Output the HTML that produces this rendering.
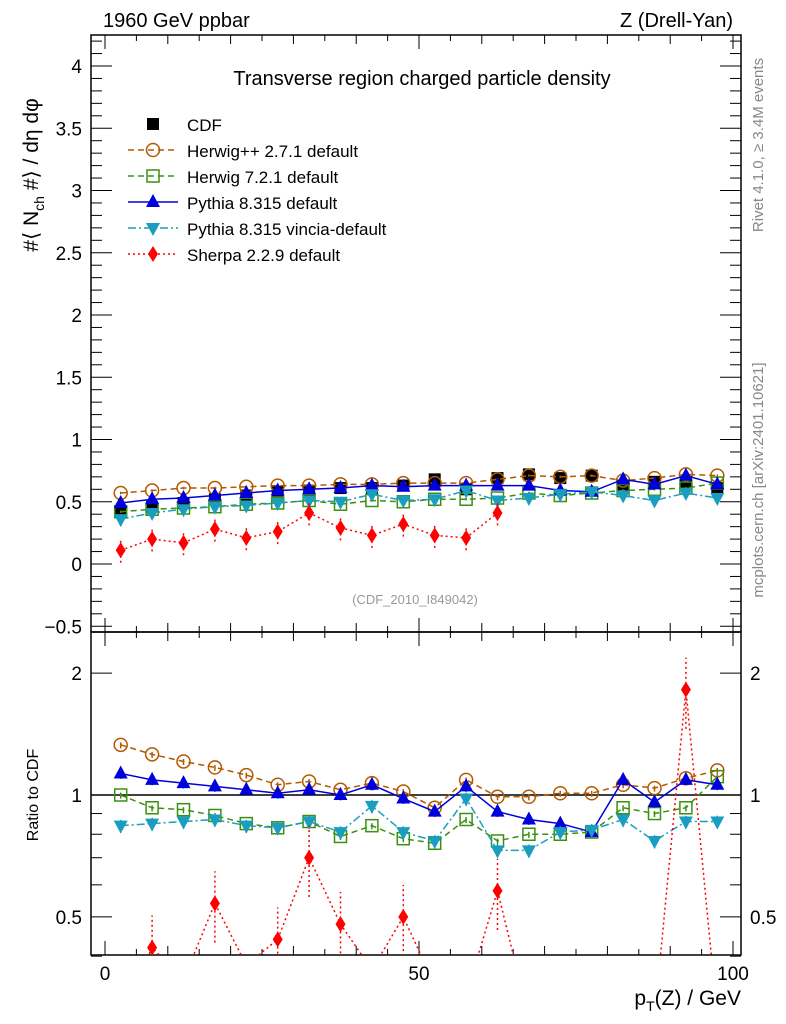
<!DOCTYPE html>
<html><head><meta charset="utf-8"><style>
html,body{margin:0;padding:0;background:#fff;overflow:hidden;width:786px;height:1024px;}
svg{display:block;}
svg text{font-family:"Liberation Sans",sans-serif;}
</style></head><body>
<svg id="c" width="786" height="1024" xmlns="http://www.w3.org/2000/svg"></svg>
<script>
const xVals=[2.5,7.5,12.5,17.5,22.5,27.5,32.5,37.5,42.5,47.5,52.5,57.5,62.5,67.5,72.5,77.5,82.5,87.5,92.5,97.5];
const cdf=[0.42,0.46,0.49,0.52,0.55,0.58,0.59,0.61,0.61,0.63,0.68,0.60,0.69,0.72,0.69,0.71,0.63,0.66,0.66,0.61];
const herwigpp=[0.57,0.59,0.61,0.61,0.62,0.63,0.63,0.64,0.64,0.65,0.65,0.65,0.68,0.71,0.70,0.71,0.67,0.69,0.72,0.71];
const herwig7=[0.42,0.44,0.45,0.46,0.48,0.49,0.51,0.48,0.51,0.50,0.52,0.52,0.53,0.57,0.55,0.57,0.59,0.60,0.61,0.65];
const pythia=[0.49,0.52,0.53,0.55,0.57,0.59,0.60,0.61,0.63,0.62,0.63,0.63,0.63,0.63,0.59,0.58,0.68,0.64,0.71,0.64];
const vincia=[0.36,0.41,0.44,0.46,0.47,0.49,0.51,0.50,0.56,0.51,0.52,0.59,0.51,0.53,0.56,0.58,0.55,0.51,0.57,0.53];
const sherpa=[0.11,0.20,0.17,0.28,0.21,0.26,0.41,0.29,0.23,0.32,0.23,0.21,0.41];
const rHerwigpp=[1.33,1.26,1.21,1.17,1.12,1.06,1.08,1.03,1.07,1.02,0.93,1.09,0.99,0.99,1.01,1.01,1.06,1.04,1.10,1.15];
const rHerwig7=[1.0,0.93,0.92,0.89,0.85,0.83,0.86,0.79,0.84,0.78,0.76,0.87,0.77,0.80,0.80,0.81,0.93,0.90,0.93,1.11];
const rPythia=[1.13,1.09,1.07,1.05,1.03,1.01,1.03,1.0,1.06,0.98,0.91,1.05,0.91,0.87,0.85,0.81,1.09,0.96,1.09,1.06];
const rVincia=[0.84,0.85,0.86,0.87,0.84,0.83,0.86,0.81,0.94,0.81,0.77,0.98,0.73,0.73,0.81,0.82,0.87,0.77,0.86,0.86];
const rSherpa=[0.26,0.42,0.35,0.54,0.38,0.44,0.70,0.48,0.37,0.50,0.34,0.32,0.58,0.2,0.2,0.2,0.2,0.2,1.82,0.2];
const yTicksTop=[-0.5,0,0.5,1,1.5,2,2.5,3,3.5,4];
const xTickLabels=[0,50,100];

const svg=document.getElementById('c');
const NS='http://www.w3.org/2000/svg';
function el(tag,attrs,parent){const e=document.createElementNS(NS,tag);for(const k in attrs)e.setAttribute(k,attrs[k]);(parent||svg).appendChild(e);return e;}
function txt(s,attrs,parent){const e=el('text',attrs,parent);e.textContent=s;return e;}
const L=91,R=741,T=35,M=632,B=955;
const X=v=>105+v*6.28;
const Y=v=>564-v*124.5;
const YR=r=>795-405*Math.log10(r);
const YRc=r=>Math.max(M-10,Math.min(1018,YR(r)));

const defs=el('defs',{});
const c1=el('clipPath',{id:'cu'},defs);el('rect',{x:L,y:T,width:R-L,height:M-T},c1);
const c2=el('clipPath',{id:'cl'},defs);el('rect',{x:L,y:M,width:R-L,height:B-M},c2);

const f1=el('rect',{x:L,y:T,width:R-L,height:M-T,fill:'none',stroke:'#000','stroke-width':1.5});

const f2=el('rect',{x:L,y:M,width:R-L,height:B-M,fill:'none',stroke:'#000','stroke-width':1.5});


const gx=el('g',{stroke:'#000','stroke-width':1});

for(let v=0;v<=100;v+=5){const len=v%50===0?14:(v%10===0?9:6);const x=X(v);
 el('line',{x1:x,y1:T,x2:x,y2:T+len},gx);el('line',{x1:x,y1:M,x2:x,y2:M-len},gx);
 el('line',{x1:x,y1:M,x2:x,y2:M+len},gx);el('line',{x1:x,y1:B,x2:x,y2:B-len},gx);}
xTickLabels.forEach(v=>{const t=txt(String(v),{x:X(v),y:980,'font-size':19,'text-anchor':'middle'});
 });

const gy=el('g',{stroke:'#000','stroke-width':1});

for(let i=-6;i<=42;i++){const v=i/10;const y=Y(v);if(y<T||y>M)continue;const len=i%5===0?21:11;
 el('line',{x1:L,y1:y,x2:L+len,y2:y},gy);el('line',{x1:R,y1:y,x2:R-len,y2:y},gy);}
yTicksTop.forEach(v=>{const t=txt(v<0?'\u22120.5':String(v),{x:82,y:Y(v)+7,'font-size':19,'text-anchor':'end'});
 });
[0.4,0.5,0.6,0.7,0.8,0.9,1,2].forEach(r=>{const y=YR(r);const len=(r===1||r===2||r===0.5)?21:11;
 el('line',{x1:L,y1:y,x2:L+len,y2:y},gy);el('line',{x1:R,y1:y,x2:R-len,y2:y},gy);});
[[2,'2'],[1,'1'],[0.5,'0.5']].forEach(([r,s])=>{
 const t=txt(s,{x:82,y:YR(r)+7,'font-size':19,'text-anchor':'end'});
 const t2=txt(s,{x:750,y:YR(r)+7,'font-size':19});});
const one=el('line',{x1:L,y1:YR(1),x2:R,y2:YR(1),stroke:'#000','stroke-width':1.5});


function marker(g,type,x,y,col){
 if(type==='sq')el('rect',{x:x-6,y:y-6,width:12,height:12,fill:'#000'},g);
 else if(type==='osq')el('rect',{x:x-6,y:y-6,width:12,height:12,fill:'#fff','fill-opacity':0,stroke:col,'stroke-width':1.5},g);
 else if(type==='oc')el('circle',{cx:x,cy:y,r:6.5,fill:'none',stroke:col,'stroke-width':1.5},g);
 else if(type==='tu')el('polygon',{points:`${x},${y-8} ${x-7},${y+5} ${x+7},${y+5}`,fill:col},g);
 else if(type==='td')el('polygon',{points:`${x},${y+8} ${x-7},${y-5} ${x+7},${y-5}`,fill:col},g);
 else if(type==='di')el('polygon',{points:`${x},${y-8} ${x-5},${y} ${x},${y+8} ${x+5},${y}`,fill:col},g);
}
const series=[
 {n:'herwigpp',v:herwigpp,r:rHerwigpp,c:'#b35900',m:'oc',d:'6,4',e:0.01,er:0.02},
 {n:'herwig7',v:herwig7,r:rHerwig7,c:'#3a9010',m:'osq',d:'6,4',e:0.01,er:0.02},
 {n:'pythia',v:pythia,r:rPythia,c:'#0000dd',m:'tu',d:'',e:0.015,er:0.03},
 {n:'vincia',v:vincia,r:rVincia,c:'#1a9ec0',m:'td',d:'8,3,2,3',e:0.02,er:0.04},
 {n:'sherpa',v:sherpa,r:rSherpa,c:'#ff0000',m:'di',d:'2,3',e:0.1,er:0.2},
];
const gu=el('g',{'clip-path':'url(#cu)'});

const gl=el('g',{'clip-path':'url(#cl)'});

const gc=el('g',{},gu);
cdf.forEach((v,i)=>marker(gc,'sq',X(xVals[i]),Y(v),'#000'));
series.forEach(s=>{
 const g=el('g',{},gu);
 el('polyline',{points:s.v.map((v,i)=>X(xVals[i])+','+Y(v)).join(' '),fill:'none',stroke:s.c,'stroke-width':1.5,'stroke-dasharray':s.d},g);
 s.v.forEach((v,i)=>{const x=X(xVals[i]);el('line',{x1:x,y1:Y(v-s.e),x2:x,y2:Y(v+s.e),stroke:s.c,'stroke-width':1.5,'stroke-dasharray':s.d},g);marker(g,s.m,x,Y(v),s.c);});
 const g2=el('g',{},gl);
 el('polyline',{points:s.r.map((v,i)=>X(xVals[i])+','+YRc(v)).join(' '),fill:'none',stroke:s.c,'stroke-width':1.5,'stroke-dasharray':s.d},g2);
 s.r.forEach((v,i)=>{const x=X(xVals[i]);if(YR(v)>B+10)return;el('line',{x1:x,y1:YRc(v*(1-s.er)),x2:x,y2:YRc(v*(1+s.er)),stroke:s.c,'stroke-width':1.5,'stroke-dasharray':s.d},g2);marker(g2,s.m,x,YR(v),s.c);});
});

const legend=[['CDF','sq','#000',''],['Herwig++ 2.7.1 default','oc','#b35900','6,4'],['Herwig 7.2.1 default','osq','#3a9010','6,4'],
 ['Pythia 8.315 default','tu','#0000dd',''],['Pythia 8.315 vincia-default','td','#1a9ec0','8,3,2,3'],['Sherpa 2.2.9 default','di','#ff0000','2,3']];
legend.forEach((l,i)=>{const y=124+i*26;const g=el('g',{});
 
 if(l[3]!==''||i===3)el('line',{x1:128,y1:y,x2:178,y2:y,stroke:l[2],'stroke-width':1.5,'stroke-dasharray':l[3]},g);
 marker(g,l[1],153,y,l[2]);txt(l[0],{x:187,y:y+7,'font-size':17},g);});

function label(s,a,name){const t=txt(s,a);return t;}
label('1960 GeV ppbar',{x:103,y:27,'font-size':20},'energy-label');
label('Z (Drell-Yan)',{x:733,y:27,'font-size':20,'text-anchor':'end'},'process-label');
label('Transverse region charged particle density',{x:422,y:85,'font-size':20,'text-anchor':'middle'},'plot-title');
label('(CDF_2010_I849042)',{x:415,y:604,'font-size':13,'text-anchor':'middle',fill:'#999'},'analysis-id');
const yt=label('',{transform:'translate(38,175) rotate(-90)','font-size':21,'text-anchor':'middle'},'y-axis-title');
yt.innerHTML='#\u27E8 N<tspan font-size="14" dy="6">ch</tspan><tspan dy="-6"> #\u27E9 / d\u03B7 d\u03C6</tspan>';
label('Ratio to CDF',{transform:'translate(38,795) rotate(-90)','font-size':16,'text-anchor':'middle'},'ratio-axis-title');
const xt=label('',{x:741,y:1005,'font-size':21,'text-anchor':'end'},'x-axis-title');
xt.innerHTML='p<tspan font-size="14" dy="6">T</tspan><tspan dy="-6">(Z) / GeV</tspan>';
label('Rivet 4.1.0, \u2265 3.4M events',{transform:'translate(763,145) rotate(-90)','font-size':15,'text-anchor':'middle',fill:'#888'},'rivet-label');
label('mcplots.cern.ch [arXiv:2401.10621]',{transform:'translate(763,480) rotate(-90)','font-size':15,'text-anchor':'middle',fill:'#888'},'mcplots-label');
</script>
</body></html>
